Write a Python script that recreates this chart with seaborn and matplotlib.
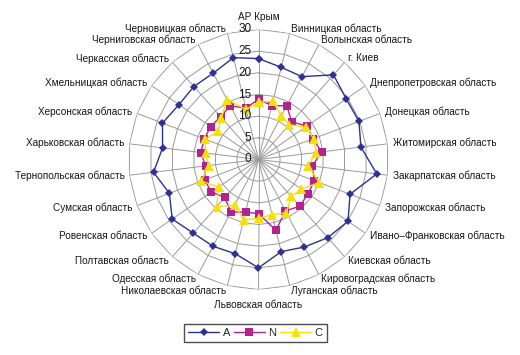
import numpy as np
import pandas as pd
import matplotlib
matplotlib.use("Agg")
import matplotlib.pyplot as plt
import seaborn as sns
from matplotlib.lines import Line2D

categories = [
    "АР Крым", "Винницкая область", "Волынская область", "г. Киев",
    "Днепропетровская область", "Донецкая область", "Житомирская область",
    "Закарпатская область", "Запорожская область", "Ивано–Франковская область",
    "Киевская область", "Кировоградская область", "Луганская область",
    "Львовская область", "Николаевская область", "Одесская область",
    "Полтавская область", "Ровенская область", "Сумская область",
    "Тернопольская область", "Харьковская область", "Херсонская область",
    "Хмельницкая область", "Черкасская область", "Черниговская область",
    "Черновицкая область",
]
series_A = [23.3, 21.9, 21.6, 26.1, 24.6, 24.8, 23.8, 27.5, 22.6, 25.1, 24.1, 22.8, 21.9,
            25.0, 22.4, 22.6, 22.7, 24.2, 22.0, 24.4, 22.3, 23.7, 22.3, 22.5, 22.5, 24.2]
series_N = [13.9, 12.8, 14.0, 11.6, 13.6, 13.4, 14.7, 12.5, 13.8, 13.9, 14.4, 13.4, 16.8,
            12.5, 12.5, 13.7, 11.7, 13.2, 13.3, 12.3, 13.4, 13.4, 13.4, 13.2, 14.0, 12.2]
series_C = [13.3, 13.8, 11.4, 10.7, 13.2, 13.6, 13.4, 11.5, 15.0, 12.0, 11.4, 13.9, 13.1,
            13.6, 14.3, 11.9, 14.5, 11.2, 14.1, 11.6, 12.3, 13.2, 11.4, 12.9, 15.6, 11.9]
series_names = ["A", "N", "C"]
radial_ticks = [0, 5, 10, 15, 20, 25, 30]

sns.set_theme(style="white")
plt.rcParams["font.family"] = ["Liberation Sans Narrow", "Liberation Sans", "DejaVu Sans"]

n = len(categories)
theta = np.arange(n) * 2 * np.pi / n
theta_closed = np.append(theta, 2 * np.pi)

fig = plt.figure(figsize=(5.2, 3.55), dpi=100)
W, H = 520, 355
cx, cy, R = 258.5, 159.5, 130
ax = fig.add_axes([(cx - R) / W, (H - cy - R) / H, 2 * R / W, 2 * R / H], projection="polar")
ax.set_theta_zero_location("N")
ax.set_theta_direction(-1)
ax.set_ylim(0, 30)
ax.grid(False)
ax.spines["polar"].set_visible(False)
ax.set_xticks([])
ax.set_yticks([])
ax.patch.set_alpha(0)

gcol = "#9a9a9a"
for r in radial_ticks[1:]:
    ax.plot(theta_closed, [r] * (n + 1), color=gcol, lw=0.7, zorder=1)
for t in theta:
    ax.plot([t, t], [0, 30], color=gcol, lw=0.7, zorder=1)

colors = {"A": "#2e3192", "N": "#b3238f", "C": "#f5e10a"}
markers = {"A": "D", "N": "s", "C": "^"}
msizes = {"A": 4.5, "N": 6.0, "C": 7.0}
values = {"A": series_A, "N": series_N, "C": series_C}

for i, name in enumerate(series_names):
    v = values[name]
    df = pd.DataFrame({"theta": theta_closed, "value": list(v) + [v[0]]})
    sns.lineplot(data=df, x="theta", y="value", ax=ax, color=colors[name],
                 marker=markers[name], markersize=msizes[name], markeredgewidth=0,
                 lw=1.0, sort=False, zorder=3 + i, label=name)
ax.set_xlabel("")
ax.set_ylabel("")
if ax.get_legend():
    ax.get_legend().remove()

txtcol = "#161616"
for r in radial_ticks:
    ax.annotate(str(r), xy=(0, r), xytext=(-5, 0), textcoords="offset points",
                ha="right", va="center", fontsize=8.5, color=txtcol, zorder=6)

lab_r = 135 / R * 30
for t, lab in zip(theta, categories):
    s, c = np.sin(t), np.cos(t)
    if abs(s) < 0.05:
        ha = "center"
        rr = (143 if c > 0 else 145) / R * 30
    else:
        ha = "left" if s > 0 else "right"
        rr = lab_r
    ax.text(t, rr, lab, ha=ha, va="center", fontsize=7.2, color=txtcol)

handles = [Line2D([0], [0], color=colors[k], marker=markers[k], markersize=msizes[k],
                  markeredgewidth=0, lw=1.0) for k in series_names]
leg = fig.legend(handles, series_names, loc="center", ncol=3,
                 bbox_to_anchor=(255.5 / W, 1 - 333 / H), frameon=True, fancybox=False,
                 fontsize=8, handlelength=2.8, handletextpad=0.3, columnspacing=0.35,
                 borderpad=0.35)
leg.get_frame().set_edgecolor("#222222")
leg.get_frame().set_linewidth(1.0)

fig.savefig("out.png", dpi=100)
